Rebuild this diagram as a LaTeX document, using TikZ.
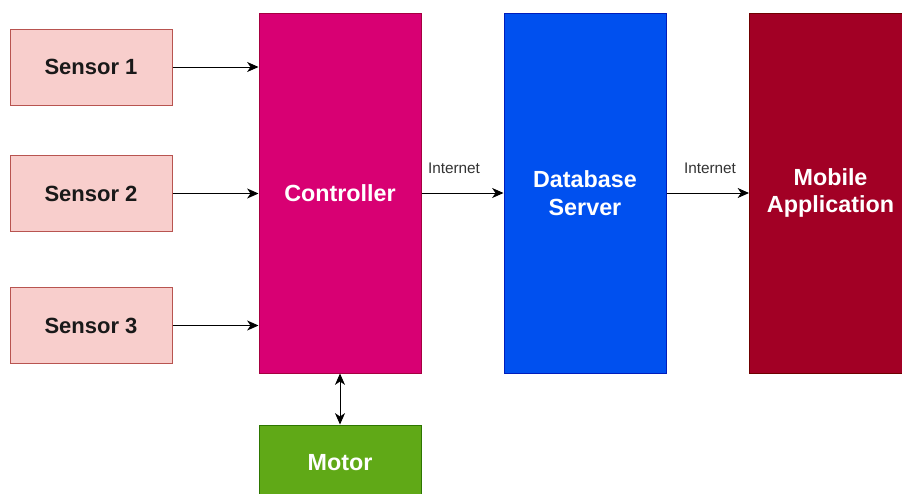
\documentclass[tikz,border=0pt]{standalone}
\usepackage{fontspec}
\setmainfont{Liberation Sans}
\usetikzlibrary{arrows.meta}

\definecolor{sensorfill}{HTML}{F8CECC}
\definecolor{sensordraw}{HTML}{B85450}
\definecolor{ctrlfill}{HTML}{D80073}
\definecolor{ctrldraw}{HTML}{A50040}
\definecolor{dbfill}{HTML}{0050EF}
\definecolor{dbdraw}{HTML}{001DBC}
\definecolor{mobfill}{HTML}{A20025}
\definecolor{mobdraw}{HTML}{6F0000}
\definecolor{motorfill}{HTML}{60A917}
\definecolor{motordraw}{HTML}{2D7600}

\tikzset{every picture/.style={line width=0.75pt}}
\tikzset{
  sensorbox/.style={draw=sensordraw, fill=sensorfill, minimum width=121.5pt, minimum height=57pt,
    font=\fontsize{16.5}{20}\selectfont\bfseries, text=black!90},
  blockbox/.style={minimum width=121.5pt, minimum height=270pt, align=center,
    font=\fontsize{17.5}{20.5}\selectfont\bfseries, text=white},
  lbl/.style={font=\fontsize{11.5}{13}\selectfont, text=black!80, inner sep=0pt},
  conn/.style={-{Stealth[length=8.5pt,width=7.5pt,inset=2.5pt]}, black},
  biconn/.style={{Stealth[length=8.5pt,width=7.5pt,inset=2.5pt]}-{Stealth[length=8.5pt,width=7.5pt,inset=2.5pt]}, black}
}

\begin{document}
\begin{tikzpicture}[x=0.75pt,y=0.75pt,yscale=-1,xscale=1]
	\useasboundingbox (0,0) rectangle (902,493);
	\clip (0,0) rectangle (902,493);

	%Shape: Rectangle [sensors]
	\node[sensorbox] (s1) at (91,67) {Sensor 1};
	\node[sensorbox] (s2) at (91,193.5) {Sensor 2};
	\node[sensorbox] (s3) at (91,325.5) {Sensor 3};

	%Shape: Rectangle [blocks]
	\node[blockbox, draw=ctrldraw, fill=ctrlfill] (ctrl) at (340,193) {Controller};
	\node[blockbox, draw=dbdraw, fill=dbfill] (db) at (585,193) {Database\\Server};
	\node[blockbox, draw=mobdraw, fill=mobfill] (mob) at (830.5,193) {Mobile\\Application};
	\node[blockbox, draw=motordraw, fill=motorfill, minimum height=57pt] (motor) at (340,463) {Motor};

	%Straight Lines [sensor inputs]
	\draw[conn] (s1.east) -- (s1.east -| ctrl.west);
	\draw[conn] (s2.east) -- (s2.east -| ctrl.west);
	\draw[conn] (s3.east) -- (s3.east -| ctrl.west);

	%Straight Lines [internet links]
	\draw[conn] (ctrl.east) -- (db.west);
	\draw[conn] (db.east) -- (mob.west);
	\node[lbl] (net1) at (454,168) {Internet};
	\node[lbl] (net2) at (710,168) {Internet};

	%Straight Lines [motor]
	\draw[biconn] (ctrl.south) -- (motor.north);

\end{tikzpicture}
\end{document}
